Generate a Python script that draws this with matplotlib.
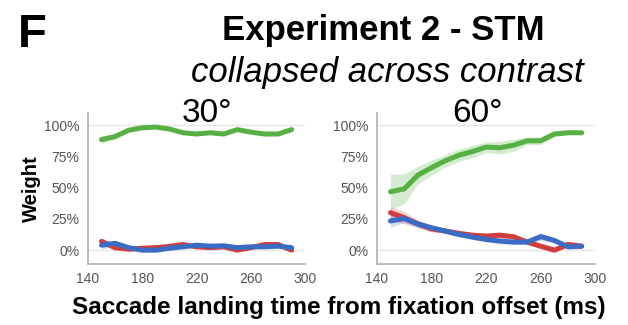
import matplotlib
matplotlib.use("Agg")
import matplotlib.pyplot as plt
from matplotlib.ticker import FuncFormatter
import numpy as np

plt.rcParams['font.family'] = ['Liberation Sans', 'DejaVu Sans']

# Saccade landing time bins (ms)
time_ms = [150, 160, 170, 180, 190, 200, 210, 220, 230, 240, 250, 260, 270, 280, 290]

# 30 deg condition: mean weights and band half-widths
w30_green = [0.885, 0.91, 0.96, 0.98, 0.985, 0.97, 0.94, 0.93, 0.94, 0.93, 0.965, 0.945, 0.93, 0.93, 0.965]
w30_red = [0.07, 0.02, 0.008, 0.015, 0.02, 0.03, 0.045, 0.027, 0.02, 0.027, 0.0, 0.02, 0.045, 0.045, 0.0]
w30_blue = [0.04, 0.055, 0.02, 0.0, 0.0, 0.015, 0.027, 0.04, 0.032, 0.035, 0.02, 0.027, 0.027, 0.032, 0.02]
e30_green = [0.03, 0.02, 0.012, 0.01, 0.01, 0.01, 0.01, 0.01, 0.01, 0.01, 0.01, 0.01, 0.01, 0.01, 0.01]
e30_red = [0.03, 0.02, 0.015, 0.012, 0.012, 0.012, 0.012, 0.012, 0.012, 0.012, 0.012, 0.012, 0.012, 0.012, 0.015]
e30_blue = [0.03, 0.02, 0.015, 0.012, 0.012, 0.012, 0.012, 0.012, 0.012, 0.012, 0.012, 0.012, 0.012, 0.012, 0.015]

# 60 deg condition
w60_green = [0.468, 0.49, 0.60, 0.66, 0.715, 0.76, 0.79, 0.825, 0.82, 0.84, 0.875, 0.876, 0.93, 0.94, 0.94]
w60_red = [0.30, 0.26, 0.21, 0.17, 0.155, 0.135, 0.12, 0.113, 0.12, 0.108, 0.065, 0.032, 0.0, 0.046, 0.032]
w60_blue = [0.234, 0.253, 0.21, 0.18, 0.153, 0.126, 0.105, 0.086, 0.073, 0.065, 0.065, 0.108, 0.078, 0.027, 0.032]
e60_green = [0.14, 0.12, 0.07, 0.06, 0.05, 0.05, 0.05, 0.04, 0.05, 0.05, 0.03, 0.03, 0.02, 0.015, 0.01]
e60_red = [0.05, 0.05, 0.03, 0.025, 0.02, 0.02, 0.02, 0.02, 0.025, 0.02, 0.02, 0.02, 0.02, 0.02, 0.02]
e60_blue = [0.05, 0.03, 0.025, 0.02, 0.02, 0.02, 0.02, 0.02, 0.02, 0.02, 0.02, 0.03, 0.02, 0.02, 0.02]

panel_titles = ["30°", "60°"]
y_ticks = [0, 0.25, 0.5, 0.75, 1.0]
x_ticks = [140, 180, 220, 260, 300]

GREEN = "#56b043"
RED = "#d13c3c"
BLUE = "#3b6cc4"

fig = plt.figure(figsize=(6.28, 3.25), dpi=100)
ax30 = fig.add_axes([0.140, 0.188, 0.346, 0.465])
ax60 = fig.add_axes([0.600, 0.188, 0.348, 0.465])

panels = [
    (ax30, [(w30_green, e30_green, GREEN), (w30_red, e30_red, RED), (w30_blue, e30_blue, BLUE)]),
    (ax60, [(w60_green, e60_green, GREEN), (w60_red, e60_red, RED), (w60_blue, e60_blue, BLUE)]),
]
title_x = [0.330, 0.761]

t = np.array(time_ms)
for (ax, series), title, tx in zip(panels, panel_titles, title_x):
    for val, err, col in series:
        v = np.array(val)
        e = np.array(err)
        ax.fill_between(t, v - e, v + e, color=col, alpha=0.25, linewidth=0)
        ax.plot(t, v, color=col, linewidth=3.6, solid_capstyle='round', solid_joinstyle='round')
    ax.set_xlim(140, 300)
    ax.set_ylim(-0.11, 1.10)
    ax.set_xticks(x_ticks)
    ax.set_yticks(y_ticks)
    ax.yaxis.set_major_formatter(FuncFormatter(lambda v, p: f"{int(round(v * 100))}%"))
    ax.tick_params(length=0, labelsize=10, colors="#555555", pad=6)
    for s in ("top", "right"):
        ax.spines[s].set_visible(False)
    for s in ("left", "bottom"):
        ax.spines[s].set_color("#b0b0b0")
        ax.spines[s].set_linewidth(1.2)
    for g in (0.0, 1.0):
        ax.axhline(g, color="#e6e6e6", linewidth=1.0, zorder=0)
    # panel heading sits just above the 100% line
    fig.text(tx, 1 - 122 / 325, title, fontsize=24, ha="center", va="baseline")

ax30.set_ylabel("Weight", fontsize=14.5, fontweight="bold", labelpad=2)

fig.text(0.028, 0.893, "F", fontsize=34, fontweight="bold", va="center", ha="left")
fig.text(0.61, 0.905, "Experiment 2 - STM", fontsize=25, fontweight="bold", ha="center", va="center")
fig.text(0.616, 0.778, "collapsed across contrast", fontsize=25, style="italic", ha="center", va="center")
fig.text(0.54, 0.055, "Saccade landing time from fixation offset (ms)", fontsize=17.5,
         fontweight="bold", ha="center", va="center")

fig.savefig("out.png", dpi=100)
